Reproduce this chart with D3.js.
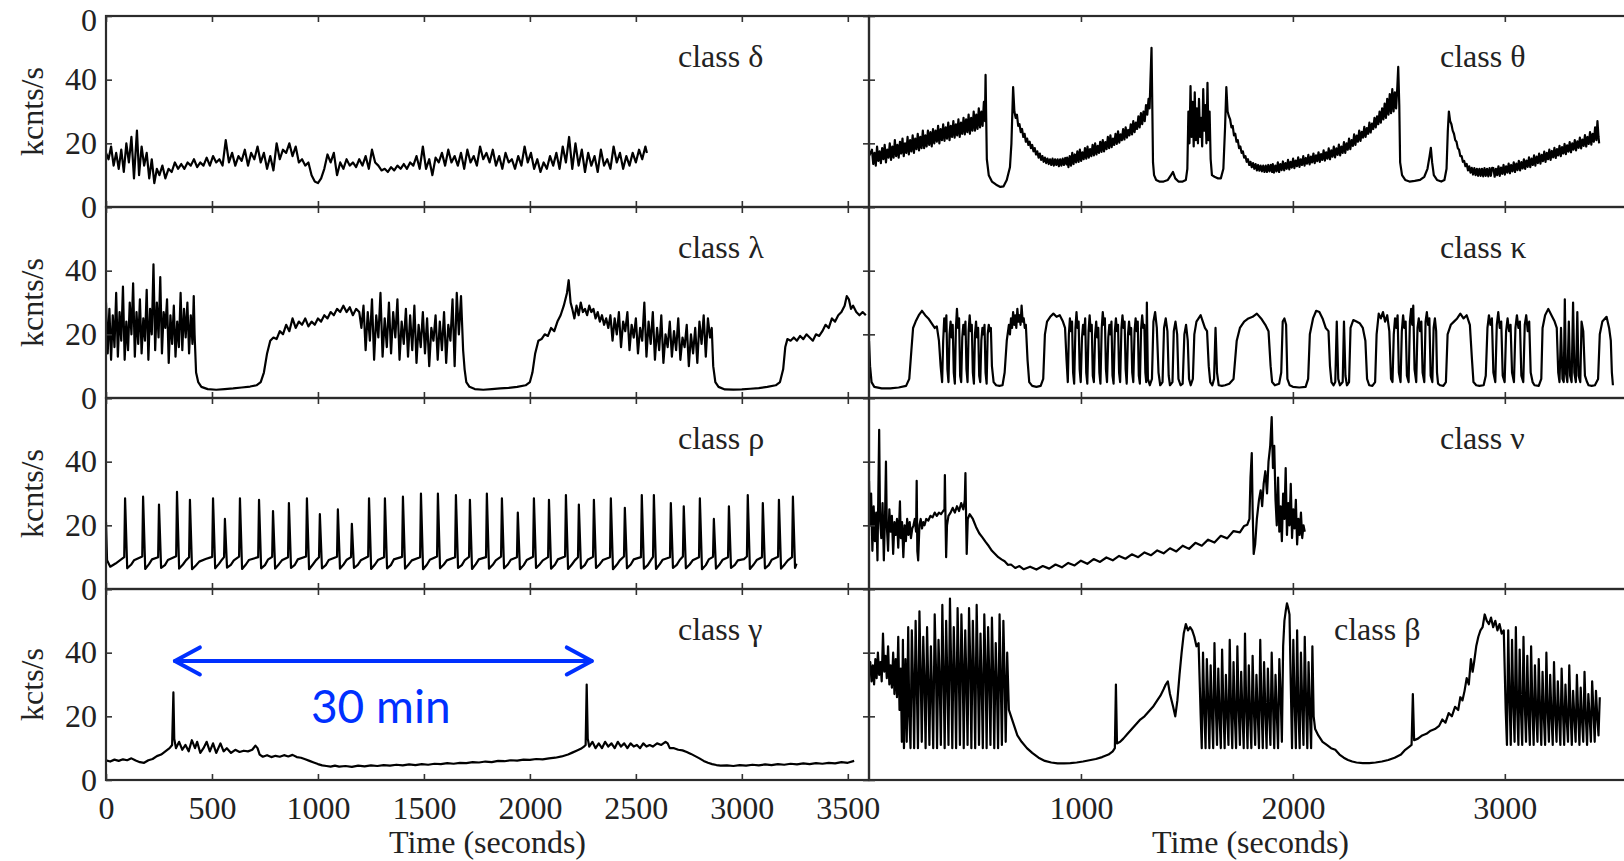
<!DOCTYPE html>
<html><head><meta charset="utf-8">
<script src="https://cdn.jsdelivr.net/npm/d3@7"></script>
<style>html,body{margin:0;padding:0;background:#fff;overflow:hidden}</style>
</head><body><svg id="c" width="1624" height="861"></svg>
<script>
// ---------------- DATA ----------------
const classLabels = [["class δ","class λ","class ρ","class γ"],["class θ","class κ","class ν","class β"]];
const yAxisTitles = ["kcnts/s","kcnts/s","kcnts/s","kcts/s"];
const leftXTicks = [0,500,1000,1500,2000,2500,3000,3500];
const rightXTicks = [1000,2000,3000];
const yTicks = [0,20,40,60];
const yTickLabels = [0,20,40];
const xTitle = "Time (seconds)";
const arrowSpan = [325, 2292];
const arrowLevel = 37.4;
const noteText = "30 min";
const notePos = [967, 17.9];

const deltaData = [[0,17],[12,15],[24,19],[36,13],[48,17],[60,12],[72,18],[84,11],[96,20],[108,14],[120,22],[132,9],[146,24],[156,10],[168,19],[180,13],[192,17],[204,9],[216,15],[228,7.5],[240,12],[252,10],[266,13],[280,9],[295,12],[310,11],[325,14],[340,12],[355,13.5],[370,12],[385,14],[400,13],[415,15],[430,12.5],[445,14],[460,13],[475,15.5],[490,13],[505,16],[520,14],[535,15],[550,13],[565,21],[580,14],[595,17],[610,13],[625,16],[640,14.5],[655,18],[670,13],[685,17],[700,15],[715,19],[730,14],[745,17],[760,12],[775,16],[790,11.5],[805,20],[820,15],[835,18],[850,17],[865,20],[880,16],[895,19],[910,14],[925,15],[940,13],[955,14],[970,10],[985,8],[1000,7.5],[1015,9],[1030,12],[1045,16.5],[1060,14],[1075,17],[1090,10],[1105,14],[1120,12],[1135,15],[1150,13],[1165,14],[1180,12.5],[1195,15],[1210,13],[1225,16],[1240,12],[1255,18],[1270,14],[1285,13],[1300,11.5],[1315,12],[1330,11],[1345,12.5],[1360,11.5],[1375,13],[1390,12],[1405,13.5],[1420,12],[1435,14],[1450,13],[1465,16],[1480,12],[1495,19],[1510,12],[1525,15],[1540,10],[1555,15.5],[1570,14],[1585,17],[1600,13],[1615,18],[1630,14],[1645,16],[1660,13],[1675,17],[1690,12],[1705,18],[1720,14],[1735,16],[1750,13],[1765,19],[1780,15],[1795,17],[1810,14],[1825,18],[1840,13],[1855,16],[1870,12],[1885,17],[1900,14],[1915,15],[1930,12],[1945,16],[1960,13],[1975,19],[1990,14],[2005,17],[2020,12],[2035,15],[2050,11],[2065,14],[2080,12],[2095,16],[2110,13],[2125,17],[2140,12],[2155,19],[2170,14],[2185,22],[2200,12],[2215,20],[2230,13],[2245,18],[2260,11],[2275,17],[2290,13],[2305,16],[2320,11],[2335,18],[2350,13],[2365,15],[2380,12],[2395,19],[2410,14],[2425,17],[2440,12],[2455,16],[2470,13],[2485,17],[2500,14],[2515,18],[2530,15],[2545,19],[2552,17]];

const lambdaData = [[0,30],[8,14],[16,28],[24,12],[32,26],[40,16],[48,33],[56,13],[64,27],[72,18],[80,35],[88,12],[96,24],[104,15],[112,30],[120,20],[128,36],[136,13],[144,27],[152,17],[160,31],[168,14],[176,25],[184,18],[192,34],[200,12],[208,28],[216,20],[224,42],[232,15],[240,30],[248,19],[256,38],[264,14],[272,27],[280,22],[288,31],[296,11],[304,26],[312,17],[320,29],[328,13],[336,24],[344,16],[352,33],[360,15],[368,28],[376,19],[384,30],[392,14],[400,26],[408,17],[414,32],[418,20],[425,8],[435,5],[450,3.5],[480,2.8],[520,2.6],[560,2.8],[600,3],[640,3.3],[680,3.6],[710,4],[730,5],[745,8],[760,14],[775,18],[790,19],[805,18.5],[820,21],[835,20],[850,23],[865,21],[880,25],[895,22],[910,24],[925,23],[940,25],[955,22.5],[970,24],[985,23],[1000,25],[1015,24],[1030,26],[1045,25],[1060,27],[1075,26],[1090,28],[1105,27],[1120,29],[1135,27],[1150,28.5],[1165,26],[1180,28],[1195,27],[1205,22],[1215,29],[1225,15],[1235,27],[1245,18],[1255,31],[1265,12],[1275,26],[1285,19],[1295,33],[1305,13],[1315,25],[1325,16],[1335,30],[1345,14],[1355,27],[1365,19],[1375,31],[1385,12],[1395,24],[1405,17],[1415,28],[1425,13],[1435,26],[1445,15],[1455,29],[1465,11],[1475,23],[1485,16],[1495,27],[1505,14],[1515,25],[1525,10],[1535,22],[1545,18],[1555,26],[1565,12],[1575,24],[1585,15],[1595,27],[1605,11],[1615,23],[1625,18],[1635,31],[1645,10],[1655,33],[1665,20],[1675,32],[1685,15],[1692,9],[1700,5],[1715,3.5],[1740,2.8],[1780,2.6],[1820,2.8],[1860,3],[1900,3.2],[1940,3.5],[1980,4],[2000,5],[2012,8],[2025,14],[2040,18],[2055,18.5],[2070,20],[2085,19.5],[2100,22],[2115,21],[2130,24],[2145,26],[2160,29],[2175,33],[2183,37],[2192,30],[2200,28],[2210,25],[2220,29],[2230,26],[2240,30],[2250,27],[2260,28],[2270,26],[2280,29],[2290,27],[2300,28],[2310,25],[2320,27],[2330,24],[2340,26],[2350,23],[2360,25],[2370,22],[2380,26],[2390,18],[2400,25],[2410,20],[2420,27],[2430,16],[2440,24],[2450,21],[2460,27],[2470,15],[2480,23],[2490,19],[2500,25],[2510,14],[2520,22],[2530,18],[2540,30],[2550,13],[2560,24],[2570,17],[2580,27],[2590,12],[2600,22],[2610,15],[2620,26],[2630,11],[2640,20],[2650,16],[2660,24],[2670,13],[2680,21],[2690,15],[2700,25],[2710,12],[2720,19],[2730,16],[2740,23],[2750,10],[2760,20],[2770,14],[2780,22],[2790,11],[2800,24],[2810,17],[2820,26],[2830,13],[2840,25],[2850,19],[2858,22],[2865,10],[2875,5],[2890,3.5],[2920,2.7],[2960,2.6],[3000,2.7],[3040,2.9],[3080,3.1],[3120,3.5],[3160,4],[3180,5],[3195,9],[3205,16],[3215,18.5],[3230,18],[3245,19],[3260,18],[3275,19.5],[3290,18.5],[3305,20],[3320,19],[3335,18],[3350,20],[3365,19.5],[3380,21],[3395,23],[3410,22],[3425,25],[3440,24],[3455,26],[3470,27],[3485,29],[3495,32],[3505,31],[3515,28],[3525,29],[3540,27],[3555,26],[3570,27],[3585,26]];

const rhoData = [[0,21],[5,9],[20,7],[45,8],[70,9.2],
[86,10],[90,28.5],[100,6.5],[118,7.6],[132,9],
[171,10.2],[175,29],[185,6.3],[203,7.8],[217,9.3],
[246,10],[250,26.5],[260,6.6],[278,7.5],[292,9.1],
[331,10.3],[335,30.5],[345,6.4],[363,7.7],[377,9],
[392,10],[396,28],[406,6.2],[424,7.4],[440,8.6],[470,9.4],
[501,10.1],[505,28.5],[515,6.5],[533,7.9],[547,9.2],
[557,10],[561,22],[571,6.7],[589,7.6],[603,9],
[628,10.2],[632,28.5],[642,6.3],[660,7.7],[674,9.1],
[718,10],[722,28],[732,6.5],[750,7.5],[764,9.2],
[784,10.1],[788,24.5],[798,6.4],[816,7.8],[830,9],
[859,10],[863,27],[873,6.6],[891,7.6],[905,9.3],
[944,10.2],[948,28.5],[958,6.2],[976,7.7],[990,9],
[1005,10],[1009,23.5],[1019,6.5],[1037,7.5],[1051,9.1],
[1090,10.1],[1094,25],[1104,6.4],[1122,7.8],[1136,9.2],
[1156,10],[1160,20.5],[1170,6.6],[1188,7.6],[1202,9],
[1237,10.2],[1241,28.5],[1251,6.3],[1269,7.7],[1283,9.1],
[1312,10],[1316,28.5],[1326,6.5],[1344,7.5],[1358,9.3],
[1397,10.1],[1401,29],[1411,6.4],[1429,7.8],[1443,9],
[1482,10],[1486,30],[1496,6.2],[1514,7.6],[1528,9.2],
[1562,10.2],[1566,30],[1576,6.5],[1594,7.7],[1608,9],
[1647,10],[1651,29.5],[1661,6.6],[1679,7.5],[1693,9.1],
[1713,10.1],[1717,28],[1727,6.3],[1745,7.8],[1759,9.3],
[1793,10],[1797,30],[1807,6.4],[1825,7.6],[1839,9],
[1864,10.2],[1868,28.5],[1878,6.5],[1896,7.7],[1910,9.2],
[1939,10],[1943,24],[1953,6.2],[1971,7.5],[1985,9.1],
[2015,10.1],[2019,28.5],[2029,6.6],[2047,7.8],[2061,9],
[2086,10],[2090,28],[2100,6.4],[2118,7.6],[2132,9.3],
[2166,10.2],[2170,29.5],[2180,6.3],[2198,7.7],[2212,9],
[2227,10],[2231,26.5],[2241,6.5],[2259,7.5],[2273,9.2],
[2298,10.1],[2302,28],[2312,6.6],[2330,7.8],[2344,9.1],
[2378,10],[2382,28.5],[2392,6.2],[2410,7.6],[2424,9],
[2444,10.2],[2448,25.5],[2458,6.5],[2476,7.7],[2490,9.3],
[2524,10],[2528,29.5],[2538,6.4],[2556,7.5],[2570,9],
[2581,10.1],[2585,29.5],[2595,6.3],[2613,7.8],[2627,9.2],
[2661,10],[2665,27],[2675,6.6],[2693,7.6],[2707,9.1],
[2722,10.2],[2726,26],[2736,6.5],[2754,7.7],[2768,9],
[2798,10],[2802,28.5],[2812,6.2],[2830,7.5],[2844,9.3],
[2864,10.1],[2868,22],[2878,6.4],[2896,7.8],[2910,9.2],
[2935,10],[2939,26],[2949,6.6],[2967,7.6],[2981,9],[3010,9.4],
[3024,10.2],[3028,29.5],[3038,6.3],[3056,7.7],[3070,9.1],
[3095,10],[3099,27],[3109,6.5],[3127,7.5],[3141,9.2],
[3171,10.1],[3175,28],[3185,6.4],[3203,7.8],[3217,9],
[3237,10],[3241,29],[3251,6.6],[3258,8]];

const gammaData = [[0,6.2],[20,5.8],[40,6.4],[60,6],[80,6.5],[100,6.2],[120,6.8],[140,6.1],[160,5.6],[180,5.4],[200,6.2],[220,6.6],[240,7.5],[260,8],[280,9],[300,10],[312,11],[318,27.5],[322,13],[330,10],[345,12],[360,9.5],[375,11],[390,9],[405,12.5],[420,10],[430,12],[445,8.5],[460,10],[475,12],[490,9],[505,11.5],[520,8.5],[540,11.5],[555,9],[570,10],[590,8.5],[610,9.5],[630,8.8],[650,9.2],[670,9],[690,9.5],[705,10.8],[715,10],[725,8],[740,7.3],[760,7.8],[780,7.2],[800,7.6],[820,7.3],[840,7.8],[860,7.4],[880,7.9],[900,7.2],[920,7],[940,6.5],[960,6],[980,5.5],[1000,5],[1020,4.6],[1040,4.4],[1060,4.2],[1080,4.5],[1100,4.2],[1130,4.4],[1160,4.1],[1190,4.5],[1220,4.3],[1250,4.6],[1280,4.4],[1310,4.7],[1340,4.5],[1370,4.8],[1400,4.6],[1430,4.9],[1460,4.7],[1490,5],[1520,4.8],[1550,5.1],[1580,5],[1610,5.3],[1640,5.1],[1670,5.4],[1700,5.3],[1730,5.6],[1760,5.5],[1790,5.8],[1820,5.6],[1850,6],[1880,5.9],[1910,6.2],[1940,6.1],[1970,6.4],[2000,6.3],[2030,6.6],[2060,6.5],[2090,6.8],[2120,7],[2150,7.4],[2180,8],[2200,8.6],[2220,9.2],[2240,9.8],[2255,10.5],[2263,11],[2268,30],[2273,13],[2280,10.5],[2295,12],[2310,10],[2325,11.5],[2340,10],[2355,12],[2370,10.5],[2385,11.5],[2400,10],[2415,12],[2430,10.5],[2445,11.5],[2460,10],[2475,11.5],[2490,10.5],[2505,11],[2520,10],[2535,11.5],[2550,10.5],[2565,11],[2580,10.5],[2600,11.5],[2620,11],[2640,12],[2650,11.5],[2660,10],[2680,10],[2700,9.5],[2720,9.3],[2740,8.8],[2760,8.2],[2780,7.5],[2800,6.8],[2820,6],[2840,5.4],[2860,5],[2880,4.7],[2900,4.5],[2930,4.6],[2960,4.4],[2990,4.7],[3020,4.5],[3050,4.8],[3080,4.6],[3110,4.9],[3140,4.7],[3170,5],[3200,4.8],[3230,5.1],[3260,4.9],[3290,5.2],[3320,5],[3350,5.3],[3380,5.1],[3410,5.4],[3440,5.2],[3470,5.6],[3500,5.4],[3530,6]];

const thetaData = [[0,16],[14,18],[20,13.5],[26,17],[32,13],[38,19],[44,14.5],[50,17.5],[56,13.8],[62,18.5],[68,15],[74,19.5],[80,14],[86,18],[92,15.5],[98,20],[104,14.8],[110,19],[116,15.5],[122,21],[128,16],[134,19.5],[140,15.5],[146,20.5],[152,16.8],[158,21.5],[164,16],[170,20],[176,17],[182,22],[188,16.5],[194,21],[200,17.5],[206,22.5],[212,17],[218,21.5],[224,18.2],[230,23],[236,17.8],[242,22],[248,18.5],[254,24],[260,18.5],[266,22.5],[272,19],[278,24],[284,19.5],[290,23.5],[296,19],[302,24.5],[308,20],[314,24],[320,20.5],[326,25.5],[332,20],[338,24.5],[344,21],[350,26],[356,20.8],[362,25],[368,21.5],[374,26.5],[380,21],[386,25.5],[392,22],[398,27],[404,21.8],[410,26],[416,22.5],[422,27.5],[428,22],[434,26.5],[440,23],[446,28],[452,22.8],[458,27.5],[464,23.5],[470,29],[476,23],[482,28],[488,24],[494,30],[500,24],[506,29],[512,24.5],[518,31],[524,25],[530,30],[536,25.5],[542,33],[547,27],[550,41.5],[553,28],[556,15],[565,10],[580,8],[600,7],[620,6.3],[635,6.5],[650,8.5],[665,12.5],[672,20],[680,37.7],[686,30],[692,28],[698,29],[704,25.5],[710,26],[716,23.5],[722,24.5],[728,22],[734,23],[740,20.5],[746,21.5],[752,19.5],[758,20.5],[764,18.5],[770,19.5],[776,17.5],[782,18.5],[788,16.5],[794,17.5],[800,15.5],[806,16.8],[812,14.8],[818,16],[824,14.2],[830,15.5],[836,13.8],[842,15.2],[848,13.5],[854,15],[860,13.2],[866,15.2],[872,13],[878,15],[884,13.2],[890,15],[896,12.8],[902,15],[908,13],[914,15.2],[920,13.2],[926,15.4],[932,13.4],[935,15.5],[941,12.5],[947,16],[953,13],[959,17],[965,13.5],[971,16.5],[977,14],[983,17.5],[989,14.2],[995,18],[1001,14.5],[1007,17.2],[1013,15],[1019,18.5],[1025,15.2],[1031,19],[1037,15.5],[1043,18.2],[1049,16],[1055,19.5],[1061,16.2],[1067,20],[1073,16.5],[1079,19.2],[1085,17],[1091,20.5],[1097,17.3],[1103,21],[1109,17.5],[1115,20.4],[1121,18.2],[1127,22],[1133,18.5],[1139,22.5],[1145,18.8],[1151,21.5],[1157,19.5],[1163,23],[1169,19.8],[1175,23.8],[1181,20.2],[1187,22.8],[1193,21],[1199,24.5],[1205,21.2],[1211,25],[1217,21.8],[1223,24.2],[1229,22.5],[1235,26],[1241,22.8],[1247,27],[1253,23.5],[1259,26.5],[1265,24.5],[1271,28.5],[1277,25],[1283,29.5],[1289,26],[1295,30],[1301,27],[1307,32],[1313,29],[1319,34],[1324,31],[1328,40],[1333,50],[1337,30],[1340,14],[1345,10],[1355,8.5],[1370,8],[1390,8],[1410,8.5],[1425,10],[1434,11],[1445,9],[1460,8],[1480,8],[1495,8.5],[1502,12],[1507,30],[1512,20],[1517,38],[1522,22],[1527,33],[1532,19],[1537,36],[1542,21],[1547,31],[1552,20],[1557,34],[1562,22],[1567,28],[1572,19],[1577,37],[1582,24],[1587,32],[1592,20],[1597,39],[1602,21],[1607,30],[1612,15],[1618,10],[1630,9.5],[1645,9],[1660,9],[1672,12],[1680,25],[1686,37.7],[1692,30],[1698,28.5],[1704,27.5],[1710,25],[1716,25.5],[1722,22.5],[1728,23],[1734,20.5],[1740,21],[1746,18.5],[1752,19],[1758,17],[1764,17.5],[1770,15.5],[1776,16],[1782,14.2],[1788,15],[1794,13.2],[1800,14.2],[1806,12.5],[1812,13.8],[1818,12],[1824,13.5],[1830,11.5],[1836,13.2],[1842,11.4],[1848,13],[1854,11.2],[1860,13],[1866,11],[1872,13],[1878,11],[1884,13.2],[1890,11.2],[1896,13.2],[1902,11],[1905,13.5],[1911,10.8],[1917,13],[1923,11.2],[1929,14],[1935,11],[1941,13.5],[1947,11.6],[1953,14.3],[1959,11.5],[1965,13.8],[1971,12],[1977,14.8],[1983,11.8],[1989,14.2],[1995,12.4],[2001,15.2],[2007,12.2],[2013,14.6],[2019,12.8],[2025,15.6],[2031,12.6],[2037,15],[2043,13.2],[2049,16],[2055,13],[2061,15.4],[2067,13.6],[2073,16.4],[2079,13.4],[2085,15.8],[2091,14],[2097,16.8],[2103,13.8],[2109,16.2],[2115,14.4],[2121,17.2],[2127,14.2],[2133,16.6],[2139,14.8],[2145,17.8],[2151,14.6],[2157,17.2],[2163,15.2],[2169,18.4],[2175,15],[2181,17.8],[2187,15.8],[2193,19],[2199,15.6],[2205,18.4],[2211,16.4],[2217,19.6],[2223,16.2],[2229,19],[2235,17],[2241,20.4],[2247,17],[2253,20],[2259,18],[2265,21.5],[2271,18.2],[2277,21],[2283,19.2],[2289,22.8],[2295,19.5],[2301,22.4],[2307,20.5],[2313,24],[2319,20.8],[2325,23.6],[2331,21.8],[2337,25.2],[2343,22],[2349,24.8],[2355,23],[2361,26.5],[2367,23.4],[2373,26.2],[2379,24.5],[2385,28],[2391,25],[2397,28.5],[2403,26],[2409,30],[2415,26.5],[2421,31],[2427,27.5],[2433,32.5],[2439,28],[2445,34],[2451,29],[2457,35.5],[2463,29.5],[2469,37],[2475,30],[2481,36],[2487,31],[2493,38],[2497,44],[2502,32],[2506,14],[2515,10],[2530,8.5],[2550,8],[2575,8.2],[2600,8.5],[2620,9.5],[2635,12],[2645,16],[2651,18.6],[2657,14],[2665,10],[2680,8.5],[2700,8],[2715,8.5],[2725,12],[2731,24],[2736,30],[2742,27],[2748,26],[2754,24],[2760,23],[2766,21],[2772,20.5],[2778,18.5],[2784,18],[2790,16],[2796,16],[2802,14.2],[2808,14.5],[2814,12.8],[2820,13.5],[2826,11.5],[2832,12.8],[2838,10.8],[2844,12.3],[2850,10.2],[2856,12.2],[2862,10],[2868,12],[2874,9.8],[2880,12],[2886,9.8],[2892,12],[2898,9.6],[2904,12.2],[2910,9.8],[2916,12],[2922,9.6],[2928,12.2],[2934,9.8],[2940,12.3],[2946,12.2],[2952,9.5],[2958,12],[2964,10],[2970,12.8],[2976,9.8],[2982,12.4],[2988,10.4],[2994,13.2],[3000,10.2],[3006,12.8],[3012,10.8],[3018,13.6],[3024,10.6],[3030,13.2],[3036,11.2],[3042,14],[3048,11],[3054,13.6],[3060,11.6],[3066,14.5],[3072,11.5],[3078,14.1],[3084,12.1],[3090,15],[3096,12],[3102,14.6],[3108,12.6],[3114,15.6],[3120,12.5],[3126,15.2],[3132,13.2],[3138,16.2],[3144,13],[3150,15.8],[3156,13.8],[3162,16.8],[3168,13.6],[3174,16.4],[3180,14.4],[3186,17.4],[3192,14.2],[3198,17],[3204,15],[3210,18],[3216,14.8],[3222,17.6],[3228,15.6],[3234,18.6],[3240,15.4],[3246,18.2],[3252,16.2],[3258,19.2],[3264,16],[3270,18.8],[3276,16.8],[3282,19.8],[3288,16.6],[3294,19.4],[3300,17.4],[3306,20.4],[3312,17.2],[3318,20],[3324,18],[3330,21],[3336,17.8],[3342,20.6],[3348,18.6],[3354,21.8],[3360,18.4],[3366,21.2],[3372,19.2],[3378,22.6],[3384,19],[3390,22],[3396,19.8],[3402,23.5],[3408,19.6],[3414,23],[3420,20.5],[3426,25],[3432,21],[3437,27],[3442,22],[3445,20]];

const kappaData = [[0,18],[5,10],[12,5],[25,3.5],[60,3],[100,3],[140,3.3],[175,3.8],[190,6],[200,15],[208,22],[220,24],[235,26],[250,27.4],[265,26],[280,25],[295,23.5],[310,22],[320,22.5],[330,18],[338,10],[345,5],
[350,18],[355,25],[360,21],[365,26],[370,9],[375,5],[380,20],[385,24],[390,19],[395,23],[400,8],[405,4.5],[410,22],[415,28],[420,22],[425,25],[430,7],[435,5],[440,19],[445,23],[450,20],[455,24],[460,9],[465,5],[470,21],[475,26],[480,21],[485,23],[490,8],[495,4.5],[500,20],[505,24],[510,19],[515,22],[520,7],[525,5],[530,18],[535,22],[540,20],[545,23],[550,8],[555,4.5],[560,20],[565,23],[570,21],[575,22],[580,10],[588,5],
[600,4],[615,3.8],[630,4],[640,8],[650,18],[660,23],[665,20],[670,25],[675,22],[680,27],[685,23],[690,26],[695,22],[700,28],[705,24],[710,26],[715,23],[720,29],[725,24],[730,25],[735,22],[740,23],[748,12],[756,5],[770,3.8],[790,3.5],[810,3.8],[822,6],[830,20],[840,24],[855,25.5],[870,26.5],[885,25.5],[900,26],[915,24],[925,22],[932,12],[938,5],
[943,20],[948,25],[953,21],[958,24],[963,8],[968,4.5],[974,22],[979,27],[984,22],[989,24],[994,9],[999,5],[1005,19],[1010,23],[1015,20],[1020,25],[1025,8],[1030,4.5],[1036,21],[1041,26],[1046,21],[1051,23],[1056,7],[1061,5],[1067,20],[1072,24],[1077,19],[1082,22],[1087,8],[1092,4.5],[1098,22],[1103,27],[1108,23],[1113,25],[1118,9],[1123,5],[1129,19],[1134,23],[1139,20],[1144,24],[1149,7],[1154,4.5],[1160,21],[1165,25],[1170,21],[1175,23],[1180,8],[1185,5],[1191,22],[1196,26],[1201,22],[1206,24],[1211,9],[1216,4.5],[1222,20],[1227,24],[1232,20],[1237,22],[1242,8],[1247,5],[1253,21],[1258,25],[1263,21],[1268,24],[1273,7],[1278,4.5],[1284,22],[1289,26],[1294,22],[1299,23],[1304,8],[1308,5],[1311,30],[1316,6],[1325,4],
[1335,6],[1342,24],[1350,27],[1358,22],[1366,8],[1374,4],[1385,5],[1392,22],[1400,25],[1408,21],[1414,7],[1420,4],[1432,5],[1438,21],[1446,24],[1454,20],[1460,6],[1470,4],[1480,4.5],[1488,20],[1496,23],[1504,18],[1510,6],[1518,4],[1528,6],[1535,20],[1545,24],[1555,25],[1565,26],[1575,24],[1585,22],[1595,21],[1603,10],[1610,5],[1620,4],[1628,6],[1635,22],[1642,8],[1650,4],[1665,3.8],[1680,4],[1700,4.5],[1720,6],[1735,18],[1750,22],[1770,24],[1790,25],[1810,25.5],[1830,26.5],[1850,25],[1870,23],[1885,21],[1895,10],[1902,5],[1915,4],[1935,4.5],[1945,8],[1952,24],[1960,25],[1968,23],[1974,6],[1985,4],[2000,3.5],[2030,3.3],[2060,3.5],[2072,6],[2080,20],[2095,25],[2110,27.4],[2125,27],[2140,25],[2155,22],[2168,21],[2175,10],[2182,5],[2192,4],[2200,5],[2207,24],[2214,6],[2222,4],[2235,5],[2241,24],[2248,7],[2255,4],[2265,5],[2272,22],[2285,24.5],[2300,24],[2315,23.5],[2330,22],[2342,18],[2350,6],[2360,4],[2375,3.8],[2388,5],[2395,20],[2405,26.5],[2415,25],[2425,27],[2435,24],[2445,26],[2455,21],[2463,6],
[2470,5],[2476,20],[2482,25],[2488,22],[2494,26],[2500,8],[2508,5],[2514,21],[2520,26],[2526,22],[2532,24],[2538,7],[2546,5],[2552,24],[2558,28],[2563,23],[2568,29],[2574,9],[2582,5],[2588,22],[2594,25],[2600,21],[2606,24],[2612,8],[2620,5],[2626,24],[2632,27],[2638,23],[2644,25],[2650,7],[2658,5],[2664,22],[2670,25],[2676,21],[2680,8],[2685,4.5],[2695,4],[2710,3.8],[2722,5],
[2730,20],[2745,23],[2760,24],[2775,25],[2790,26.5],[2805,25],[2820,26],[2835,23],[2845,12],[2852,5],[2865,4],[2880,3.8],[2900,4],[2910,7],
[2918,22],[2925,26],[2932,23],[2939,25],[2946,8],[2955,5],[2962,23],[2969,27],[2976,22],[2983,24],[2990,7],[2999,5],[3006,21],[3013,25],[3020,21],[3027,23],[3034,8],[3043,5],[3050,22],[3057,26],[3064,22],[3071,24],[3078,7],[3087,5],[3094,23],[3101,26],[3108,21],[3115,24],[3122,8],[3131,5],[3140,4],[3160,3.8],[3172,6],
[3178,22],[3190,26],[3205,28],[3220,26],[3235,24],[3245,22],[3252,8],[3258,5],[3265,22],[3272,6],[3278,5],[3283,31],[3288,8],[3295,5],[3302,24],[3308,7],[3315,5],[3322,30],[3328,8],[3335,5],[3342,27],[3348,7],[3356,5],[3362,24],[3370,21],[3378,7],[3388,5],[3395,4],[3410,3.8],[3425,4],[3440,6],[3448,20],[3460,24],[3480,25.5],[3492,22],[3500,18],[3505,8],[3510,4]];

const nuData = [[0,34],[5,20],[10,30],[16,12],[22,26],[28,15],[34,24],[40,9],[44,30],[48,50],[52,22],[58,16],[64,27],[70,9],[76,24],[80,40],[84,20],[90,12],[96,25],[102,18],[108,23],[114,11],[120,21],[126,17],[132,22],[138,13],[142,20],[146,27.5],[150,16],[156,21],[162,10],[168,20],[174,15],[180,22],[186,17],[192,21],[198,16],[204,19],[210,20],[216,22],[222,18],[225,34],[228,12],[232,9],[238,20],[244,22],[250,19],[256,21],[262,20],[270,22],[280,21.5],[290,23],[300,22.5],[310,24],[320,23],[330,24],[340,23.5],[350,24.5],[356,25],[358,35.8],[361,22],[364,10],[368,20],[375,23],[385,24],[395,25.5],[405,24],[415,26],[425,24.5],[435,27],[445,25],[452,28],[455,36.4],[458,23],[461,11],[466,22],[475,23.5],[490,22],[505,19.5],[520,17.5],[535,16.2],[550,14.8],[565,13.5],[580,12],[595,11],[610,10],[625,9.3],[640,8.7],[655,7.6],[670,7.7],[690,6.6],[710,7.2],[730,6.2],[760,7],[790,6.1],[820,7.2],[850,6.4],[880,7.7],[910,6.8],[940,8.2],[970,7.4],[1000,8.9],[1030,7.9],[1060,9.4],[1090,8.5],[1120,9.9],[1150,9],[1180,10.4],[1210,9.5],[1240,10.9],[1270,10],[1300,11.5],[1330,10.6],[1360,12.1],[1390,11.2],[1420,12.8],[1450,11.8],[1480,13.6],[1510,12.6],[1540,14.5],[1570,13.6],[1600,15.5],[1630,14.6],[1660,16.7],[1690,15.9],[1720,18.2],[1750,17.8],[1770,19.8],[1785,20.2],[1795,22],[1800,35],[1806,42.7],[1810,25],[1815,11],[1822,14],[1830,22],[1840,28],[1848,31],[1855,26],[1862,33],[1870,37],[1878,30],[1885,40],[1893,45],[1900,54],[1906,38],[1912,45],[1918,28],[1924,20],[1930,35],[1936,18],[1942,26],[1948,15],[1954,30],[1960,22],[1966,38],[1972,17],[1978,27],[1984,20],[1990,33],[1996,16],[2002,25],[2008,19],[2014,28],[2020,14],[2026,22],[2032,17],[2038,24],[2044,16],[2050,20],[2056,18]];

const betaData = [[0,33],[6,37],[12,31],[18,36],[24,30],[30,38],[36,32],[42,40],[48,33],[54,37],[60,31],[66,46],[72,34],[78,39],[84,32],[90,42],[96,30],[102,36],[108,29],[114,40],[120,27],[126,38],[132,26],[138,45],[144,22],[150,35],[155,12],[160,44],[165,10],[172,38],[178,12],[185,48],[190,20],[196,10],[202,47],[208,30],[213,10],[220,50],[226,28],[231,10],[238,53],[244,33],[249,12],[256,45],[262,30],[267,10],[274,48],[280,29],[285,11],[292,42],[298,26],[303,10],[310,52],[316,35],[321,10],[328,44],[334,30],[339,11],[346,55],[352,32],[357,10],[364,50],[370,30],[375,11],[382,57],[388,34],[393,10],[400,48],[406,31],[411,10],[418,54],[424,33],[429,11],[436,52],[442,35],[447,10],[454,47],[460,30],[465,11],[472,54],[478,36],[483,10],[490,50],[496,31],[501,10],[508,55],[514,33],[519,11],[526,46],[532,29],[537,10],[544,52],[550,35],[555,10],[562,48],[568,31],[573,11],[580,51],[586,33],[591,10],[598,43],[604,28],[609,10],[616,52],[622,30],[627,11],[634,50],[640,32],[645,12],[652,40],[660,22],[680,18],[700,14],[720,12],[745,10],[770,8.5],[800,7],[830,6],[860,5.5],[890,5.2],[920,5.2],[950,5.3],[980,5.5],[1010,5.8],[1040,6.2],[1070,6.6],[1100,7.2],[1130,8],[1150,9],[1160,10],[1165,30],[1170,11.5],[1185,12],[1200,13],[1220,14.5],[1240,16],[1260,17.5],[1280,19],[1300,20],[1320,21.5],[1340,23],[1360,25],[1375,26.5],[1390,28.5],[1400,30],[1410,31],[1420,27],[1435,23],[1445,20],[1455,25],[1465,33],[1475,40],[1485,46],[1495,49],[1505,47],[1515,48],[1525,47],[1535,45],[1545,42],[1555,43],[1565,20],[1570,10],[1576,40],[1582,22],[1588,10],[1594,38],[1600,25],[1606,10],[1612,36],[1618,21],[1624,10],[1630,43],[1636,24],[1642,11],[1648,35],[1654,20],[1660,10],[1666,41],[1672,23],[1678,10],[1684,33],[1690,21],[1696,11],[1702,44],[1708,22],[1714,10],[1720,37],[1726,20],[1732,10],[1738,42],[1744,23],[1750,11],[1756,34],[1762,21],[1768,10],[1774,46],[1780,22],[1786,10],[1792,36],[1798,20],[1804,10],[1810,39],[1816,22],[1822,11],[1828,33],[1834,21],[1840,10],[1846,44],[1852,23],[1858,10],[1864,37],[1870,22],[1876,10],[1882,35],[1888,21],[1894,11],[1900,40],[1906,24],[1912,10],[1918,33],[1924,21],[1930,10],[1936,38],[1942,27],[1948,12],[1954,42],[1960,50],[1966,53],[1972,55.5],[1978,54],[1984,52],[1990,30],[1996,10],[2002,44],[2008,25],[2014,10],[2020,47],[2026,22],[2032,10],[2038,40],[2044,24],[2050,11],[2056,45],[2062,25],[2068,10],[2074,37],[2080,22],[2086,10],[2092,42],[2098,20],[2105,16],[2120,14],[2140,12],[2160,11],[2180,10],[2200,9.5],[2220,8],[2240,7],[2260,6.3],[2280,5.8],[2300,5.5],[2330,5.3],[2360,5.3],[2390,5.5],[2420,5.8],[2450,6.3],[2480,7],[2510,8],[2530,9.5],[2550,10.5],[2560,11],[2566,27],[2572,12.5],[2590,13],[2610,14],[2630,14.5],[2650,15.5],[2670,16],[2690,17],[2705,19],[2720,18],[2735,21],[2750,20],[2765,23],[2780,22],[2790,26],[2800,25],[2810,28],[2820,32],[2830,30],[2840,38],[2848,34],[2855,37],[2865,42],[2875,45],[2885,47],[2895,48],[2905,52],[2915,50],[2925,49],[2935,51],[2945,48],[2955,50],[2965,47],[2975,49],[2985,46],[2995,47],[3004,22],[3010,11],[3016,47],[3022,26],[3028,11],[3034,44],[3040,24],[3046,12],[3052,48],[3058,23],[3064,11],[3070,41],[3076,22],[3082,11],[3088,45],[3094,24],[3100,12],[3106,39],[3112,21],[3118,11],[3124,42],[3130,23],[3136,11],[3142,36],[3148,21],[3154,12],[3160,38],[3166,22],[3172,11],[3178,34],[3184,20],[3190,11],[3196,40],[3202,22],[3208,12],[3214,33],[3220,20],[3226,11],[3232,37],[3238,21],[3244,12],[3250,31],[3256,20],[3262,11],[3268,35],[3274,22],[3280,11],[3286,30],[3292,19],[3298,12],[3304,36],[3310,21],[3316,11],[3322,28],[3328,20],[3334,12],[3340,33],[3346,21],[3352,11],[3358,29],[3364,19],[3370,12],[3376,34],[3382,20],[3388,11],[3394,27],[3400,20],[3406,12],[3412,31],[3418,22],[3424,12],[3430,28],[3436,20],[3442,14],[3448,26]];

// ---------------- LAYOUT ----------------
const seriesGrid = [[deltaData, lambdaData, rhoData, gammaData],[thetaData, kappaData, nuData, betaData]];
const colRange = [[106, 869], [869, 1632]];
const rowTop = [16, 207, 398, 589];
const rowH = 191;
const labelX = [678, 1440];
const labelXOverride = {"1,3": 1334};
const serif = "'Liberation Serif','Times New Roman',Times,serif";
const ink = "#222";

const svg = d3.select("#c");
svg.append("rect").attr("width", 1624).attr("height", 861).attr("fill", "#fff");
const defs = svg.append("defs");

function styleAxis(g) {
  g.select(".domain").remove();
  g.selectAll(".tick line").attr("stroke", "#333").attr("stroke-width", 1.6);
  g.selectAll("text").attr("font-family", serif).attr("font-size", 32).attr("fill", ink);
}

let xScales = [];
for (let c = 0; c < 2; c++) {
  const x = d3.scaleLinear().domain([0, 3600]).range(colRange[c]);
  xScales.push(x);
  const xt = c === 0 ? leftXTicks : rightXTicks;
  for (let r = 0; r < 4; r++) {
    const top = rowTop[r], bot = top + rowH;
    const y = d3.scaleLinear().domain([0, 60]).range([bot, top]);
    const g = svg.append("g");
    const id = "clip" + c + r;
    defs.append("clipPath").attr("id", id).append("rect")
      .attr("x", colRange[c][0]).attr("y", top).attr("width", colRange[c][1] - colRange[c][0]).attr("height", rowH);

    g.append("path").datum(seriesGrid[c][r])
      .attr("clip-path", `url(#${id})`)
      .attr("fill", "none").attr("stroke", "#000").attr("stroke-width", 2.2)
      .attr("stroke-linejoin", "round")
      .attr("d", d3.line().x(d => x(d[0])).y(d => y(d[1])));

    g.append("rect").attr("x", colRange[c][0]).attr("y", top)
      .attr("width", colRange[c][1] - colRange[c][0]).attr("height", rowH)
      .attr("fill", "none").attr("stroke", "#2b2b2b").attr("stroke-width", 2.2);

    g.append("g").attr("transform", `translate(0,${bot})`)
      .call(d3.axisBottom(x).tickValues(xt).tickSize(-6).tickFormat("")).call(styleAxis);
    g.append("g").attr("transform", `translate(0,${top})`)
      .call(d3.axisTop(x).tickValues(xt).tickSize(-6).tickFormat("")).call(styleAxis);
    g.append("g").attr("transform", `translate(${colRange[c][0]},0)`)
      .call(d3.axisLeft(y).tickValues(yTicks).tickSize(-6).tickFormat("")).call(styleAxis);
    g.append("g").attr("transform", `translate(${colRange[c][1]},0)`)
      .call(d3.axisRight(y).tickValues(yTicks).tickSize(-6).tickFormat("")).call(styleAxis);

    if (c === 0) {
      g.append("g").attr("transform", `translate(${colRange[0][0]},0)`)
        .call(d3.axisLeft(y).tickValues(yTickLabels).tickSize(0).tickPadding(9).tickFormat(d3.format("d")))
        .call(styleAxis);
      if (r === 0) {
        // label of the panel boundary above (the source crop shows it at the very top)
        const stub = g.append("g").attr("transform", `translate(${colRange[0][0]},4)`)
          .call(d3.axisLeft(y).tickValues([60]).tickSize(0).tickPadding(9).tickFormat(() => "0"))
          .call(styleAxis);
      }
      g.append("text")
        .attr("transform", `translate(43,${(top + bot) / 2}) rotate(-90)`)
        .attr("text-anchor", "middle").attr("font-family", serif).attr("font-size", 32).attr("fill", ink)
        .text(yAxisTitles[r]);
    }

    const lx = labelXOverride[c + "," + r] !== undefined ? labelXOverride[c + "," + r] : labelX[c];
    g.append("text").attr("x", lx).attr("y", top + 51)
      .attr("font-family", serif).attr("font-size", 32).attr("fill", ink)
      .text(classLabels[c][r]);

    if (r === 3) {
      g.append("g").attr("transform", `translate(0,${bot})`)
        .call(d3.axisBottom(x).tickValues(xt).tickSize(0).tickPadding(16).tickFormat(d3.format("d")))
        .call(styleAxis);
      g.append("text").attr("x", (colRange[c][0] + colRange[c][1]) / 2).attr("y", 853)
        .attr("text-anchor", "middle").attr("font-family", serif).attr("font-size", 32).attr("fill", ink)
        .text(xTitle);
    }
  }
}

// blue annotation in class γ panel
{
  const x = xScales[0];
  const y = d3.scaleLinear().domain([0, 60]).range([rowTop[3] + rowH, rowTop[3]]);
  const blue = "#0030ff";
  const ay = y(arrowLevel), x1 = x(arrowSpan[0]), x2 = x(arrowSpan[1]);
  const a = svg.append("g").attr("stroke", blue).attr("stroke-width", 4).attr("fill", "none")
    .attr("stroke-linecap", "round").attr("stroke-linejoin", "round");
  a.append("line").attr("x1", x1).attr("x2", x2).attr("y1", ay).attr("y2", ay);
  a.append("path").attr("d", `M${x1 + 25},${ay - 13.5}L${x1},${ay}L${x1 + 25},${ay + 13.5}`);
  a.append("path").attr("d", `M${x2 - 25},${ay - 13.5}L${x2},${ay}L${x2 - 25},${ay + 13.5}`);
  svg.append("text").attr("x", x(notePos[0])).attr("y", y(notePos[1]))
    .attr("font-family", "Lato, 'Noto Sans', sans-serif").attr("font-size", 46).attr("fill", blue)
    .text(noteText);
}
</script>
</body></html>
